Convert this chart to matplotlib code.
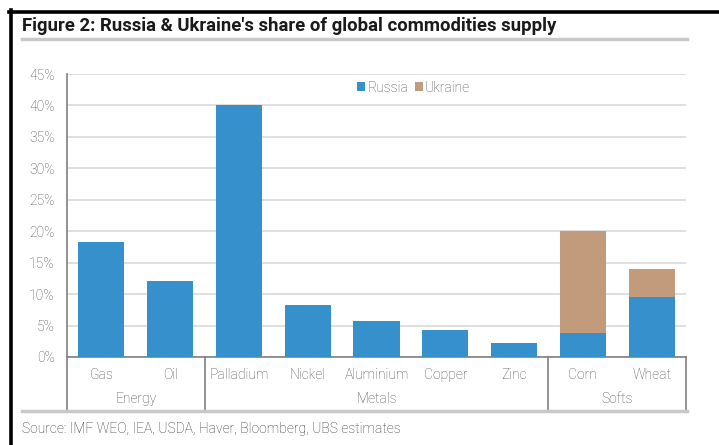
import matplotlib
matplotlib.use("Agg")
import matplotlib.pyplot as plt
from matplotlib.lines import Line2D
from matplotlib.ticker import FuncFormatter

categories = ["Gas", "Oil", "Palladium", "Nickel", "Aluminium", "Copper", "Zinc", "Corn", "Wheat"]
russia = [18.3, 12.1, 40.0, 8.3, 5.8, 4.3, 2.2, 3.8, 9.6]
ukraine = [0, 0, 0, 0, 0, 0, 0, 16.3, 4.4]
groups = ["Energy", "Metals", "Softs"]
group_spans = [(0, 1), (2, 6), (7, 8)]

blue = "#3590CB"
tan = "#C19B7B"
grey_txt = "#505050"
W, H = 719, 445

def fx(px):
    return px / W

def fy(py):
    return 1 - py / H

plt.rcParams["font.family"] = ["Roboto", "DejaVu Sans"]
fig = plt.figure(figsize=(7.19, 4.45), dpi=100)

ax = fig.add_axes([fx(67), fy(357), fx(686) - fx(67), fy(74) - fy(357)])
x = range(len(categories))
ax.bar(x, russia, width=0.67, color=blue, zorder=3, label="Russia")
ax.bar(x, ukraine, width=0.67, bottom=russia, color=tan, zorder=3, label="Ukraine")
ax.set_xlim(-0.5, len(categories) - 0.5)
ax.set_ylim(0, 45)
ax.set_yticks(range(0, 46, 5))
ax.yaxis.set_major_formatter(FuncFormatter(lambda v, p: f"{v:.0f}%"))
ax.tick_params(axis="y", length=0, pad=9, labelsize=10, labelcolor=grey_txt)
for lab in ax.get_yticklabels():
    lab.set_fontweight("light")
ax.set_xticks([])
ax.grid(axis="y", color="#D9D9D9", linewidth=1.2, zorder=0)
for s in ["top", "right", "left"]:
    ax.spines[s].set_visible(False)
ax.spines["bottom"].set_color("#808080")
ax.spines["bottom"].set_linewidth(1.2)

# category labels and group labels under the axis
tr = ax.get_xaxis_transform()
for i, c in enumerate(categories):
    ax.text(i, -0.062, c, transform=tr, ha="center", va="center",
            fontsize=10, color=grey_txt, fontweight="light")
for g, (a, b) in zip(groups, group_spans):
    ax.text((a + b) / 2, -0.148, g, transform=tr, ha="center", va="center",
            fontsize=10, color=grey_txt, fontweight="light")

# separators
lc = "#808080"
fig.add_artist(Line2D([fx(67), fx(67)], [fy(74), fy(411)], color=lc, lw=1.2))
for px in [205, 548, 686]:
    fig.add_artist(Line2D([fx(px), fx(px)], [fy(357), fy(411)], color=lc, lw=1.2))

# legend
leg = ax.legend(loc="center", bbox_to_anchor=(0.56, 0.952), ncol=2, frameon=False,
                fontsize=10, handlelength=0.55, handleheight=0.55, handletextpad=0.15,
                columnspacing=0.5, labelcolor=grey_txt)
for t in leg.get_texts():
    t.set_fontweight("light")

# frame, title, rules, source
fig.add_artist(Line2D([fx(10.5), fx(10.5)], [fy(10), 0], color="black", lw=2.6))
fig.add_artist(Line2D([fx(9), 1], [fy(11.5), fy(11.5)], color="black", lw=2.6))
fig.text(fx(22), fy(26), "Figure 2: Russia & Ukraine's share of global commodities supply",
         fontsize=13.3, fontweight="bold", color="#1a1a1a", va="center", ha="left")
fig.add_artist(Line2D([fx(22), fx(687)], [fy(38.5), fy(38.5)], color="#C8C8C8", lw=2.5))
fig.add_artist(Line2D([fx(22), fx(687)], [fy(411), fy(411)], color="#C8C8C8", lw=2.5))
fig.text(fx(22), fy(429), "Source: IMF WEO, IEA, USDA, Haver, Bloomberg, UBS estimates",
         fontsize=10, color="#333333", va="center", ha="left", fontweight="light")

fig.savefig("out.png", dpi=100)
